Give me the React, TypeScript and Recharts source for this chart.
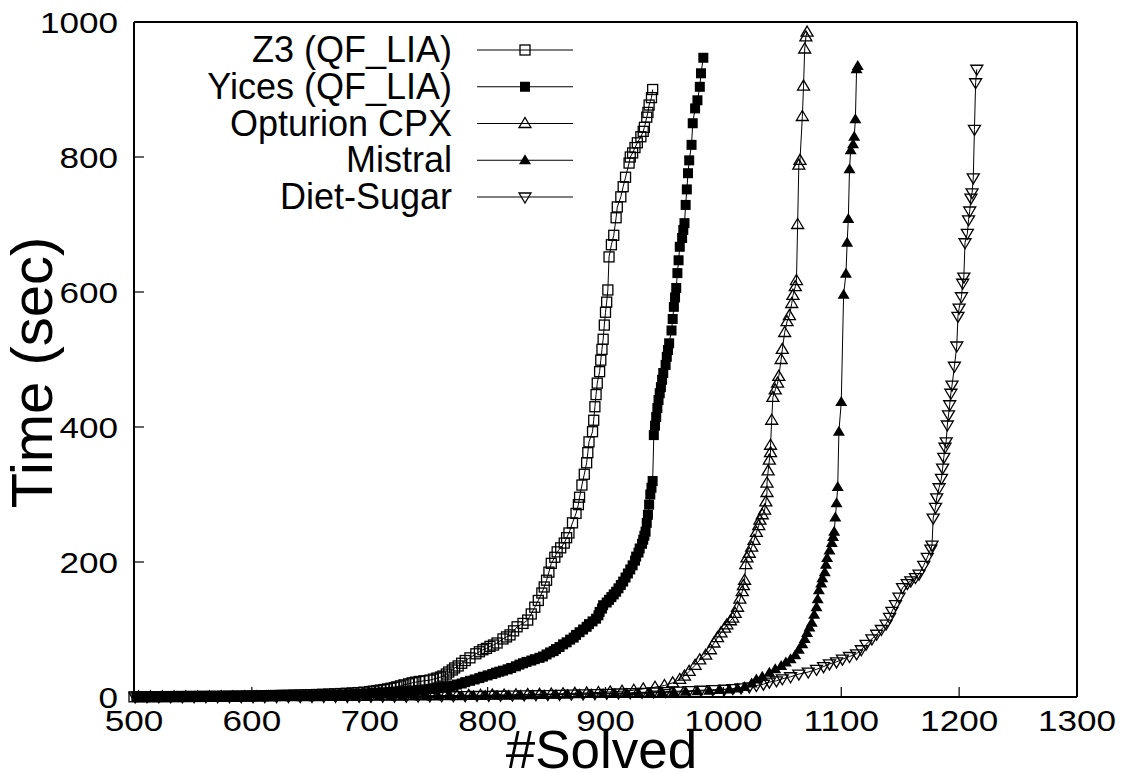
import React from "react";
import { LineChart, Line, XAxis, YAxis, Legend, Label } from "recharts";

// [#solved, time in sec]
const z3Points: [number, number][] = [
  [500, 0.3], [505, 0.35], [510, 0.4], [515, 0.45], [520, 0.5], [525, 0.55], [530, 0.6], [535, 0.65],
  [540, 0.7], [545, 0.75], [550, 0.8], [555, 0.85], [560, 0.9], [565, 0.95], [570, 1.0], [575, 1.1],
  [580, 1.2], [585, 1.3], [590, 1.4], [595, 1.5], [600, 1.6], [605, 1.75], [610, 1.9], [615, 2.05],
  [620, 2.2], [625, 2.4], [630, 2.6], [635, 2.8], [640, 3], [645, 3.2], [650, 3.4], [655, 3.7],
  [660, 4], [665, 4.3], [670, 4.7], [675, 5.1], [680, 5.5], [685, 6], [690, 6.5], [695, 7.2],
  [700, 8], [703, 8.7], [706, 9.5], [709, 10.2], [712, 11], [715, 12], [718, 13], [721, 14],
  [723, 15], [726, 16.5], [729, 18], [733, 19.5], [736, 21], [739, 22], [742, 23], [746, 24],
  [751, 25], [754, 26.5], [757, 28], [760, 29.5], [762, 31], [765, 34], [767, 37], [770, 40],
  [772, 43], [775, 46], [778, 50], [781, 54], [785, 58], [790, 64], [793, 67], [796, 70],
  [799, 72], [802, 75], [805, 77], [808, 80], [813, 86], [816, 89], [819, 92], [822, 98],
  [825, 104], [830, 109], [834, 114], [837, 123], [840, 133], [843, 143], [846, 154], [848, 163],
  [850, 173], [852, 185], [854, 198], [857, 207], [859, 215], [862, 221], [865, 228], [867, 236],
  [869, 243], [872, 258], [875, 272], [877, 285], [878, 296], [880, 314], [882, 330], [884, 347],
  [885, 362], [886, 378], [889, 393], [890, 410], [891, 430], [892, 448], [893, 465], [895, 482],
  [896, 499], [897, 515], [898, 530], [899, 551], [900, 570], [901, 585], [902, 603], [903, 652],
  [905, 670], [907, 684], [909, 710], [910, 726], [913, 741], [915, 756], [917, 770], [920, 791],
  [921, 800], [923, 806], [925, 814], [927, 821], [930, 830], [932, 838], [933, 844], [935, 859],
  [936, 866], [937, 877], [939, 888], [940, 900],
];

const yicesPoints: [number, number][] = [
  [502, 0.3], [507, 0.32], [512, 0.35], [517, 0.37], [522, 0.4], [527, 0.42], [532, 0.45], [537, 0.47],
  [542, 0.5], [547, 0.55], [552, 0.6], [557, 0.65], [562, 0.7], [567, 0.75], [572, 0.8], [577, 0.85],
  [582, 0.9], [587, 0.95], [592, 1.0], [597, 1.1], [602, 1.2], [607, 1.3], [612, 1.4], [617, 1.5],
  [622, 1.6], [627, 1.75], [632, 1.9], [637, 2.05], [642, 2.2], [647, 2.4], [652, 2.6], [657, 2.8],
  [662, 3], [667, 3.2], [672, 3.5], [677, 3.8], [682, 4.2], [687, 4.6], [692, 5], [697, 5.5],
  [702, 6], [707, 6.5], [712, 7], [717, 7.5], [722, 8], [727, 8.5], [732, 9], [737, 9.7],
  [742, 10.5], [747, 11.2], [752, 12], [755, 12.5], [758, 13], [761, 13.7], [765, 14.5], [768, 15.7],
  [771, 17], [774, 18.5], [778, 20], [781, 22], [785, 24], [789, 26], [793, 28], [796, 30],
  [800, 32], [804, 34], [807, 36], [810, 37.5], [813, 39], [817, 41], [820, 43], [824, 45.5],
  [827, 48], [830, 50], [833, 52], [837, 54], [840, 56], [844, 58], [847, 60], [850, 63],
  [853, 66], [856, 68], [858, 71], [861, 74], [864, 78], [867, 81], [870, 85], [873, 88],
  [875, 92], [878, 96], [881, 100], [884, 104], [886, 108], [889, 112], [892, 116], [894, 121],
  [895, 126], [897, 131], [898, 136], [901, 140], [903, 144], [905, 148], [907, 152], [909, 156],
  [911, 161], [913, 166], [915, 171], [917, 177], [919, 183], [921, 189], [923, 195], [925, 202],
  [926, 208], [928, 214], [929, 220], [931, 227], [932, 233], [933, 239], [934, 245], [935, 258],
  [936, 270], [937, 285], [938, 300], [939, 310], [940, 320], [941, 388], [942, 402], [943, 415],
  [944, 428], [945, 440], [946, 450], [947, 459], [948, 470], [949, 480], [951, 492], [952, 504],
  [953, 514], [954, 524], [956, 543], [957, 560], [958, 578], [959, 592], [960, 606], [961, 628],
  [962, 647], [963, 667], [965, 680], [966, 692], [967, 702], [968, 729], [969, 752], [970, 776],
  [971, 795], [973, 818], [974, 850], [976, 872], [978, 884], [980, 904], [981, 924], [983, 947],
];

const opturionPoints: [number, number][] = [
  [504, 0.2], [514, 0.22], [524, 0.25], [534, 0.28], [544, 0.3], [554, 0.33], [564, 0.35], [574, 0.38],
  [584, 0.4], [594, 0.45], [604, 0.5], [614, 0.55], [624, 0.6], [634, 0.65], [644, 0.7], [654, 0.75],
  [664, 0.8], [674, 0.9], [684, 1], [694, 1.1], [704, 1.2], [714, 1.3], [724, 1.4], [734, 1.55],
  [744, 1.7], [754, 1.85], [764, 2], [774, 2.2], [784, 2.4], [794, 2.6], [804, 2.8], [814, 3],
  [824, 3.3], [834, 3.6], [844, 4], [854, 4.4], [864, 4.8], [874, 5.4], [884, 6], [894, 6.7],
  [904, 7.5], [914, 8.6], [924, 10], [932, 12], [942, 14.5], [950, 17], [957, 21], [963, 26],
  [967, 31], [971, 38], [976, 47], [980, 55], [985, 62], [989, 70], [992, 80], [995, 88],
  [998, 95], [1001, 102], [1003, 107], [1006, 113], [1008, 117], [1010, 124], [1012, 133], [1014, 145],
  [1016, 156], [1017, 165], [1018, 173], [1019, 196], [1020, 206], [1022, 213], [1024, 222], [1026, 232],
  [1028, 244], [1030, 254], [1031, 262], [1033, 270], [1035, 277], [1036, 289], [1037, 303], [1037, 317],
  [1038, 335], [1039, 351], [1040, 362], [1040, 373], [1041, 410], [1042, 444], [1044, 455], [1046, 465],
  [1047, 475], [1049, 500], [1050, 515], [1052, 540], [1054, 556], [1056, 565], [1058, 583], [1059, 595],
  [1061, 608], [1062, 617], [1063, 700], [1064, 788], [1065, 795], [1067, 860], [1068, 905], [1069, 960],
  [1070, 978], [1071, 985],
];

const mistralPoints: [number, number][] = [
  [508, 0.2], [518, 0.22], [528, 0.25], [538, 0.28], [548, 0.3], [558, 0.33], [568, 0.35], [578, 0.38],
  [588, 0.4], [598, 0.45], [608, 0.5], [618, 0.55], [628, 0.6], [638, 0.65], [648, 0.7], [658, 0.75],
  [668, 0.8], [678, 0.85], [688, 0.9], [698, 1], [708, 1.05], [718, 1.15], [728, 1.25], [738, 1.35],
  [748, 1.45], [758, 1.55], [768, 1.7], [778, 1.85], [788, 2], [798, 2.15], [808, 2.3], [818, 2.5],
  [828, 2.7], [838, 2.9], [848, 3.1], [858, 3.4], [868, 3.7], [878, 4], [888, 4.3], [898, 4.6],
  [908, 4.9], [918, 5.2], [928, 5.6], [938, 6.1], [948, 6.6], [958, 7.2], [968, 7.9], [978, 8.6],
  [988, 9.4], [997, 10.3], [1005, 11], [1012, 12.5], [1018, 15], [1024, 20], [1028, 26], [1033, 30],
  [1039, 36], [1044, 41], [1049, 46], [1053, 51], [1057, 56], [1061, 62], [1064, 70], [1067, 78],
  [1069, 86], [1071, 95], [1073, 103], [1075, 110], [1077, 122], [1079, 133], [1080, 145], [1081, 158],
  [1083, 168], [1084, 176], [1086, 185], [1087, 196], [1088, 206], [1090, 217], [1092, 228], [1093, 237],
  [1094, 245], [1095, 266], [1096, 287], [1097, 311], [1098, 393], [1100, 437], [1102, 596], [1104, 627],
  [1105, 673], [1106, 708], [1107, 782], [1108, 810], [1110, 819], [1111, 830], [1112, 856], [1113, 930],
  [1114, 935],
];

const dietSugarPoints: [number, number][] = [
  [501, 0.2], [511, 0.22], [521, 0.25], [531, 0.28], [541, 0.3], [551, 0.33], [561, 0.35], [571, 0.38],
  [581, 0.4], [591, 0.45], [601, 0.5], [611, 0.52], [621, 0.55], [631, 0.6], [641, 0.65], [651, 0.7],
  [661, 0.75], [671, 0.8], [681, 0.85], [691, 0.95], [701, 1], [711, 1.1], [721, 1.2], [731, 1.3],
  [741, 1.4], [751, 1.55], [761, 1.7], [771, 1.85], [781, 2], [791, 2.2], [801, 2.4], [811, 2.6],
  [821, 2.8], [831, 3.1], [841, 3.3], [851, 3.6], [861, 3.9], [871, 4.3], [881, 4.6], [891, 5],
  [901, 5.4], [911, 5.9], [921, 6.3], [931, 6.9], [941, 7.4], [951, 8], [961, 8.6], [971, 9.3],
  [981, 10], [991, 10.8], [1001, 11.5], [1008, 12.5], [1015, 13.5], [1022, 15], [1028, 17], [1034, 19],
  [1039, 22], [1045, 24], [1050, 27], [1057, 30], [1064, 34], [1072, 37], [1079, 41], [1085, 45],
  [1090, 49], [1096, 52], [1101, 56], [1107, 60], [1113, 64], [1117, 70], [1121, 78], [1126, 86],
  [1130, 93], [1134, 100], [1138, 108], [1141, 118], [1143, 127], [1146, 137], [1149, 148], [1152, 162],
  [1156, 168], [1159, 172], [1163, 177], [1166, 182], [1170, 195], [1173, 207], [1176, 219], [1177, 225],
  [1178, 265], [1180, 281], [1181, 295], [1183, 310], [1185, 324], [1186, 339], [1187, 355], [1188, 370],
  [1189, 378], [1190, 403], [1191, 418], [1192, 433], [1193, 450], [1194, 462], [1196, 490], [1198, 520],
  [1199, 564], [1200, 576], [1202, 593], [1203, 613], [1204, 622], [1205, 673], [1207, 687], [1208, 707],
  [1209, 720], [1210, 739], [1211, 747], [1212, 769], [1213, 841], [1214, 910], [1215, 930],
];

const xTicks = [500, 600, 700, 800, 900, 1000, 1100, 1200, 1300];
const yTicks = [0, 200, 400, 600, 800, 1000];

type MarkerKind = "openSquare" | "filledSquare" | "openUp" | "filledUp" | "openDown";

const series: { name: string; points: [number, number][]; marker: MarkerKind }[] = [
  { name: "Z3 (QF_LIA)", points: z3Points, marker: "openSquare" },
  { name: "Yices (QF_LIA)", points: yicesPoints, marker: "filledSquare" },
  { name: "Opturion CPX", points: opturionPoints, marker: "openUp" },
  { name: "Mistral", points: mistralPoints, marker: "filledUp" },
  { name: "Diet-Sugar", points: dietSugarPoints, marker: "openDown" },
];

const FONT = "'Liberation Sans', Arial, Helvetica, sans-serif";
const TICK = 10;

function Marker({ cx, cy, kind }: { cx?: number; cy?: number; kind: MarkerKind }) {
  if (cx == null || cy == null || isNaN(cx) || isNaN(cy)) return null;
  const s = 5;
  const sw = 1.3;
  switch (kind) {
    case "openSquare":
      return <rect x={cx - s} y={cy - s} width={2 * s} height={2 * s} fill="none" stroke="#000" strokeWidth={sw} />;
    case "filledSquare":
      return <rect x={cx - s} y={cy - s} width={2 * s} height={2 * s} fill="#000" />;
    case "openUp":
      return <path d={`M${cx},${cy - 6}L${cx + 6},${cy + 4}L${cx - 6},${cy + 4}Z`} fill="none" stroke="#000" strokeWidth={sw} />;
    case "filledUp":
      return <path d={`M${cx},${cy - 6}L${cx + 6},${cy + 4}L${cx - 6},${cy + 4}Z`} fill="#000" />;
    case "openDown":
      return <path d={`M${cx},${cy + 6}L${cx + 6},${cy - 4}L${cx - 6},${cy - 4}Z`} fill="none" stroke="#000" strokeWidth={sw} />;
  }
  return null;
}

// inward ticks, gnuplot style; labels slightly widened like the original
const BottomTick = ({ x, y, payload }: any) => (
  <g>
    <line x1={x} x2={x} y1={y} y2={y - TICK} stroke="#000" strokeWidth={1.2} />
    <text transform={`translate(${x},${y + 34}) scale(1.17,1)`} textAnchor="middle" fontSize={30} fontFamily={FONT} fill="#000">
      {payload.value}
    </text>
  </g>
);

const LeftTick = ({ x, y, payload }: any) => (
  <g>
    <line x1={x} x2={x + TICK} y1={y} y2={y} stroke="#000" strokeWidth={1.2} />
    <text transform={`translate(${x - 16},${y + 10.5}) scale(1.17,1)`} textAnchor="end" fontSize={30} fontFamily={FONT} fill="#000">
      {payload.value}
    </text>
  </g>
);

const TopTick = ({ x, y }: any) => (
  <g>
    <line x1={x} x2={x} y1={y} y2={y + TICK} stroke="#000" strokeWidth={1.2} />
  </g>
);
const RightTick = ({ x, y }: any) => (
  <g>
    <line x1={x} x2={x - TICK} y1={y} y2={y} stroke="#000" strokeWidth={1.2} />
  </g>
);

const renderLegend = (props: any) => {
  const payload = props.payload || [];
  return (
    <svg width={600} height={230} style={{ display: "block" }}>
      {series.map((cfg, i) => {
        const entry = payload.find((p: any) => p.value === cfg.name);
        if (!entry) return null;
        const y = 50 + i * 36.75;
        return (
          <g key={cfg.name}>
            <text x={452} y={y + 12} textAnchor="end" fontSize={36} fontFamily={FONT} fill="#000">
              {entry.value}
            </text>
            <line x1={477} x2={573} y1={y} y2={y} stroke="#000" strokeWidth={1} />
            <Marker cx={525} cy={y} kind={cfg.marker} />
          </g>
        );
      })}
    </svg>
  );
};

const axisLine = { stroke: "#000", strokeWidth: 2 };

export default function App() {
  return (
    <div style={{ position: "absolute", left: 0, top: 0, background: "#fff" }}>
      <LineChart width={1129} height={773} margin={{ top: 21, right: 51, bottom: 0, left: 0 }}>
        <XAxis
          xAxisId="b"
          type="number"
          dataKey="x"
          domain={[500, 1300]}
          ticks={xTicks}
          interval={0}
          height={76}
          tickSize={0}
          tickMargin={0}
          axisLine={axisLine}
          tickLine={false}
          tick={<BottomTick />}
        >
          <Label
            content={(p: any) => {
              const vb = p.viewBox || {};
              return (
                <text x={vb.x + vb.width / 2 - 4} y={vb.y + 71} textAnchor="middle" fontSize={53} fontFamily={FONT} fill="#000">
                  #Solved
                </text>
              );
            }}
          />
        </XAxis>
        <XAxis
          xAxisId="t"
          orientation="top"
          type="number"
          dataKey="x"
          domain={[500, 1300]}
          ticks={xTicks}
          interval={0}
          height={1}
          tickSize={0}
          tickMargin={0}
          axisLine={axisLine}
          tickLine={false}
          tick={<TopTick />}
        />
        <YAxis
          yAxisId="l"
          type="number"
          domain={[0, 1000]}
          ticks={yTicks}
          interval={0}
          width={134}
          tickSize={0}
          tickMargin={0}
          axisLine={axisLine}
          tickLine={false}
          tick={<LeftTick />}
        >
          <Label
            content={(p: any) => {
              const vb = p.viewBox || {};
              const x = vb.x + 52;
              const y = vb.y + vb.height / 2 + 13;
              return (
                <text x={x} y={y} transform={`rotate(-90, ${x}, ${y})`} textAnchor="middle" fontSize={58} fontFamily={FONT} fill="#000">
                  Time (sec)
                </text>
              );
            }}
          />
        </YAxis>
        <YAxis
          yAxisId="r"
          orientation="right"
          type="number"
          domain={[0, 1000]}
          ticks={yTicks}
          interval={0}
          width={1}
          tickSize={0}
          tickMargin={0}
          axisLine={axisLine}
          tickLine={false}
          tick={<RightTick />}
        />
        <Legend
          layout="vertical"
          align="center"
          verticalAlign="middle"
          wrapperStyle={{ position: "absolute", left: 0, top: 0, width: 600, height: 230 }}
          content={renderLegend}
        />
        {series.map((s) => (
          <Line
            key={s.name}
            xAxisId="b"
            yAxisId="l"
            data={s.points.map(([x, y]) => ({ x, y }))}
            dataKey="y"
            name={s.name}
            type="linear"
            stroke="#000"
            strokeWidth={1}
            dot={(props: any) => <Marker key={`${s.name}-${props.index}`} cx={props.cx} cy={props.cy} kind={s.marker} />}
            activeDot={false}
            isAnimationActive={false}
          />
        ))}
      </LineChart>
    </div>
  );
}
